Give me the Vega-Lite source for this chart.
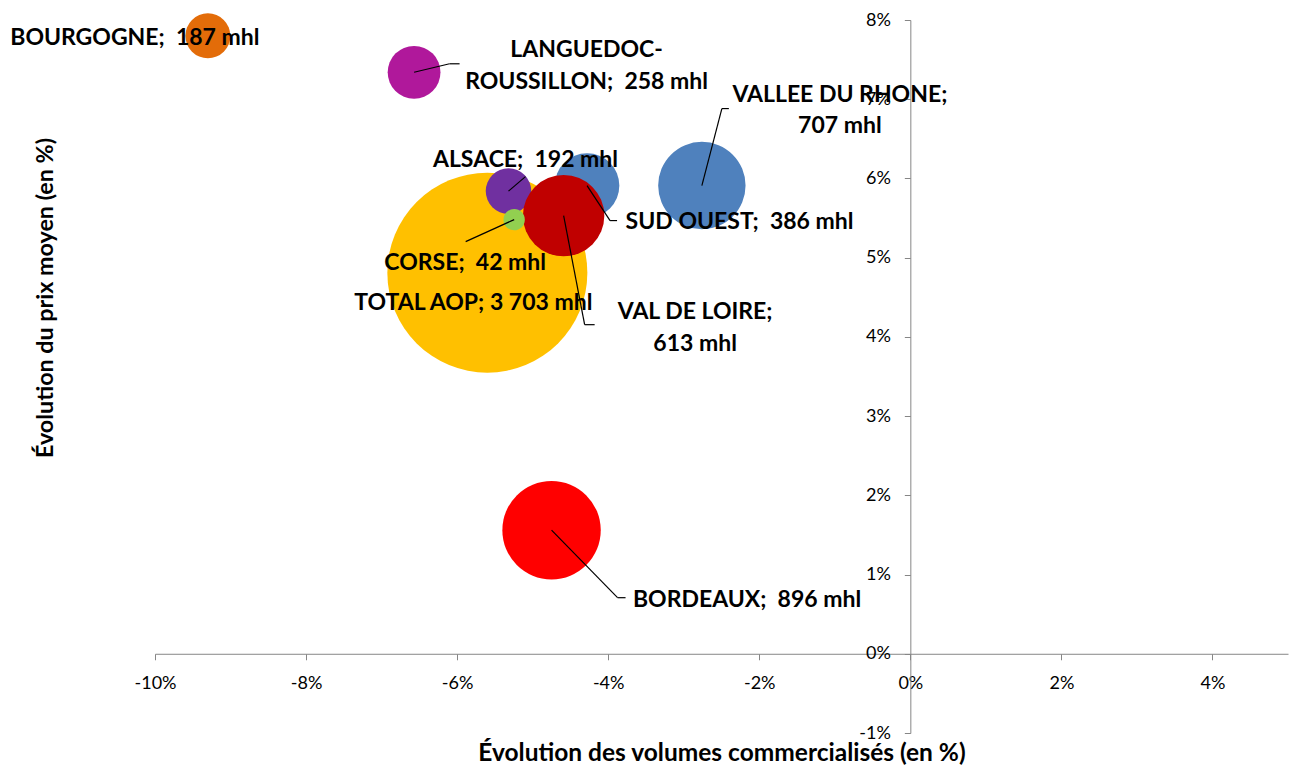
{
  "$schema": "https://vega.github.io/schema/vega-lite/v6.json",
  "width": 1133,
  "height": 713,
  "autosize": {"type": "none"},
  "padding": {"left": 155, "top": 20, "right": 7, "bottom": 34},
  "background": "white",
  "config": {"view": {"stroke": null}, "font": "Lato"},
  "data": {
    "values": [
      {"region": "TOTAL AOP", "vol": -5.60, "prix": 4.81, "volume": 3703, "label": "TOTAL AOP; 3 703 mhl"},
      {"region": "BORDEAUX", "vol": -4.75, "prix": 1.56, "volume": 896, "label": "BORDEAUX;\u00a0 896 mhl"},
      {"region": "VALLEE DU RHONE", "vol": -2.76, "prix": 5.91, "volume": 707, "label": "VALLEE DU RHONE;\n707 mhl"},
      {"region": "SUD OUEST", "vol": -4.28, "prix": 5.91, "volume": 386, "label": "SUD OUEST;\u00a0 386 mhl"},
      {"region": "ALSACE", "vol": -5.32, "prix": 5.84, "volume": 192, "label": "ALSACE;\u00a0 192 mhl"},
      {"region": "LANGUEDOC-ROUSSILLON", "vol": -6.57, "prix": 7.34, "volume": 258, "label": "LANGUEDOC-\nROUSSILLON;\u00a0 258 mhl"},
      {"region": "BOURGOGNE", "vol": -9.30, "prix": 7.80, "volume": 187, "label": "BOURGOGNE;\u00a0 187 mhl"},
      {"region": "VAL DE LOIRE", "vol": -4.59, "prix": 5.53, "volume": 613, "label": "VAL DE LOIRE;\n613 mhl"},
      {"region": "CORSE", "vol": -5.245, "prix": 5.48, "volume": 42, "label": "CORSE;\u00a0 42 mhl"}
    ]
  },
  "encoding": {
    "x": {
      "field": "vol", "type": "quantitative",
      "scale": {"domain": [-10, 5], "nice": false, "zero": false},
      "axis": {
        "title": "Évolution des volumes commercialisés (en %)",
        "orient": "bottom", "offset": -79.22,
        "values": [-10, -8, -6, -4, -2, 0, 2, 4],
        "labelExpr": "datum.value + '%'",
        "grid": false, "domainColor": "#868686", "tickColor": "#868686", "tickSize": 6,
        "labelFont": "Lato", "labelFontSize": 18, "labelColor": "#000", "labelPadding": 15,
        "labelFlush": false, "labelOverlap": false,
        "titleFont": "Lato", "titleFontSize": 24.5, "titleFontWeight": "bold", "titleColor": "#000",
        "titleY": 100, "titleBaseline": "middle"
      }
    },
    "y": {
      "field": "prix", "type": "quantitative",
      "scale": {"domain": [-1, 8], "nice": false, "zero": false},
      "axis": {
        "title": "Évolution du prix moyen (en %)",
        "orient": "left", "offset": -755.33,
        "values": [-1, 0, 1, 2, 3, 4, 5, 6, 7, 8],
        "labelExpr": "datum.value + '%'",
        "grid": false, "domainColor": "#868686", "tickColor": "#868686", "tickSize": 6,
        "labelFont": "Lato", "labelFontSize": 18, "labelColor": "#000", "labelPadding": 14,
        "labelFlush": false, "labelOverlap": false,
        "titleFont": "Lato", "titleFontSize": 23.3, "titleFontWeight": "bold", "titleColor": "#000",
        "titleX": -865.3, "titleY": 277.5, "titleAngle": -90, "titleBaseline": "middle", "titleAlign": "center"
      }
    }
  },
  "layer": [
    {
      "mark": {"type": "circle", "opacity": 1},
      "encoding": {
        "size": {"field": "volume", "type": "quantitative", "scale": {"type": "linear", "domain": [0, 3703], "range": [0, 40000], "zero": true}, "legend": null},
        "color": {
          "field": "region", "type": "nominal", "legend": null,
          "scale": {
            "domain": ["TOTAL AOP", "BORDEAUX", "VALLEE DU RHONE", "SUD OUEST", "ALSACE", "LANGUEDOC-ROUSSILLON", "BOURGOGNE", "VAL DE LOIRE", "CORSE"],
            "range": ["#FFC000", "#FF0000", "#4F81BD", "#4F81BD", "#7030A0", "#B0189B", "#E36C09", "#C00000", "#92D050"]
          }
        }
      }
    },
    {"transform": [{"filter": "datum.region === 'LANGUEDOC-ROUSSILLON'"}], "mark": {"type": "rule", "color": "#000", "strokeWidth": 1.2, "x2Offset": 35.5, "y2Offset": -8.5}, "encoding": {"x2": {"field": "vol"}, "y2": {"field": "prix"}}},
    {"transform": [{"filter": "datum.region === 'LANGUEDOC-ROUSSILLON'"}], "mark": {"type": "rule", "color": "#000", "strokeWidth": 1.2, "xOffset": 35.5, "x2Offset": 45.5, "yOffset": -8.5}, "encoding": {"x2": {"field": "vol"}}},
    {"transform": [{"filter": "datum.region === 'VALLEE DU RHONE'"}], "mark": {"type": "rule", "color": "#000", "strokeWidth": 1.2, "x2Offset": 20, "y2Offset": -77}, "encoding": {"x2": {"field": "vol"}, "y2": {"field": "prix"}}},
    {"transform": [{"filter": "datum.region === 'VALLEE DU RHONE'"}], "mark": {"type": "rule", "color": "#000", "strokeWidth": 1.2, "xOffset": 20, "x2Offset": 27, "yOffset": -77}, "encoding": {"x2": {"field": "vol"}}},
    {"transform": [{"filter": "datum.region === 'ALSACE'"}], "mark": {"type": "rule", "color": "#000", "strokeWidth": 1.2, "x2Offset": 17, "y2Offset": -14.5}, "encoding": {"x2": {"field": "vol"}, "y2": {"field": "prix"}}},
    {"transform": [{"filter": "datum.region === 'SUD OUEST'"}], "mark": {"type": "rule", "color": "#000", "strokeWidth": 1.2, "x2Offset": 23, "y2Offset": 35}, "encoding": {"x2": {"field": "vol"}, "y2": {"field": "prix"}}},
    {"transform": [{"filter": "datum.region === 'SUD OUEST'"}], "mark": {"type": "rule", "color": "#000", "strokeWidth": 1.2, "xOffset": 23, "x2Offset": 30, "yOffset": 35}, "encoding": {"x2": {"field": "vol"}}},
    {"transform": [{"filter": "datum.region === 'CORSE'"}], "mark": {"type": "rule", "color": "#000", "strokeWidth": 1.2, "x2Offset": -48.5, "y2Offset": 22}, "encoding": {"x2": {"field": "vol"}, "y2": {"field": "prix"}}},
    {"transform": [{"filter": "datum.region === 'VAL DE LOIRE'"}], "mark": {"type": "rule", "color": "#000", "strokeWidth": 1.2, "x2Offset": 21, "y2Offset": 109}, "encoding": {"x2": {"field": "vol"}, "y2": {"field": "prix"}}},
    {"transform": [{"filter": "datum.region === 'VAL DE LOIRE'"}], "mark": {"type": "rule", "color": "#000", "strokeWidth": 1.2, "xOffset": 21, "x2Offset": 31, "yOffset": 109}, "encoding": {"x2": {"field": "vol"}}},
    {"transform": [{"filter": "datum.region === 'BORDEAUX'"}], "mark": {"type": "rule", "color": "#000", "strokeWidth": 1.2, "x2Offset": 66, "y2Offset": 67.5}, "encoding": {"x2": {"field": "vol"}, "y2": {"field": "prix"}}},
    {"transform": [{"filter": "datum.region === 'BORDEAUX'"}], "mark": {"type": "rule", "color": "#000", "strokeWidth": 1.2, "xOffset": 66, "x2Offset": 74, "yOffset": 67.5}, "encoding": {"x2": {"field": "vol"}}},
    {"transform": [{"filter": "datum.region === 'BOURGOGNE'"}], "mark": {"type": "text", "font": "Lato", "fontSize": 23, "fontWeight": "bold", "color": "#000", "align": "center", "baseline": "middle", "lineBreak": "\n", "lineHeight": 31.5, "dx": -73, "dy": 2}, "encoding": {"text": {"field": "label"}}},
    {"transform": [{"filter": "datum.region === 'LANGUEDOC-ROUSSILLON'"}], "mark": {"type": "text", "font": "Lato", "fontSize": 23, "fontWeight": "bold", "color": "#000", "align": "center", "baseline": "middle", "lineBreak": "\n", "lineHeight": 31.5, "dx": 172.5, "dy": -22}, "encoding": {"text": {"field": "label"}}},
    {"transform": [{"filter": "datum.region === 'VALLEE DU RHONE'"}], "mark": {"type": "text", "font": "Lato", "fontSize": 23, "fontWeight": "bold", "color": "#000", "align": "center", "baseline": "middle", "lineBreak": "\n", "lineHeight": 31.5, "dx": 138, "dy": -91}, "encoding": {"text": {"field": "label"}}},
    {"transform": [{"filter": "datum.region === 'ALSACE'"}], "mark": {"type": "text", "font": "Lato", "fontSize": 23, "fontWeight": "bold", "color": "#000", "align": "center", "baseline": "middle", "lineBreak": "\n", "lineHeight": 31.5, "dx": 17, "dy": -31}, "encoding": {"text": {"field": "label"}}},
    {"transform": [{"filter": "datum.region === 'SUD OUEST'"}], "mark": {"type": "text", "font": "Lato", "fontSize": 23, "fontWeight": "bold", "color": "#000", "align": "center", "baseline": "middle", "lineBreak": "\n", "lineHeight": 31.5, "dx": 152.5, "dy": 36.5}, "encoding": {"text": {"field": "label"}}},
    {"transform": [{"filter": "datum.region === 'CORSE'"}], "mark": {"type": "text", "font": "Lato", "fontSize": 23, "fontWeight": "bold", "color": "#000", "align": "center", "baseline": "middle", "lineBreak": "\n", "lineHeight": 31.5, "dx": -49, "dy": 43.5}, "encoding": {"text": {"field": "label"}}},
    {"transform": [{"filter": "datum.region === 'TOTAL AOP'"}], "mark": {"type": "text", "font": "Lato", "fontSize": 23, "fontWeight": "bold", "color": "#000", "align": "center", "baseline": "middle", "lineBreak": "\n", "lineHeight": 31.5, "dx": -14, "dy": 30}, "encoding": {"text": {"field": "label"}}},
    {"transform": [{"filter": "datum.region === 'VAL DE LOIRE'"}], "mark": {"type": "text", "font": "Lato", "fontSize": 23, "fontWeight": "bold", "color": "#000", "align": "center", "baseline": "middle", "lineBreak": "\n", "lineHeight": 31.5, "dx": 131.5, "dy": 96.5}, "encoding": {"text": {"field": "label"}}},
    {"transform": [{"filter": "datum.region === 'BORDEAUX'"}], "mark": {"type": "text", "font": "Lato", "fontSize": 23, "fontWeight": "bold", "color": "#000", "align": "center", "baseline": "middle", "lineBreak": "\n", "lineHeight": 31.5, "dx": 195.5, "dy": 70}, "encoding": {"text": {"field": "label"}}}
  ]
}
